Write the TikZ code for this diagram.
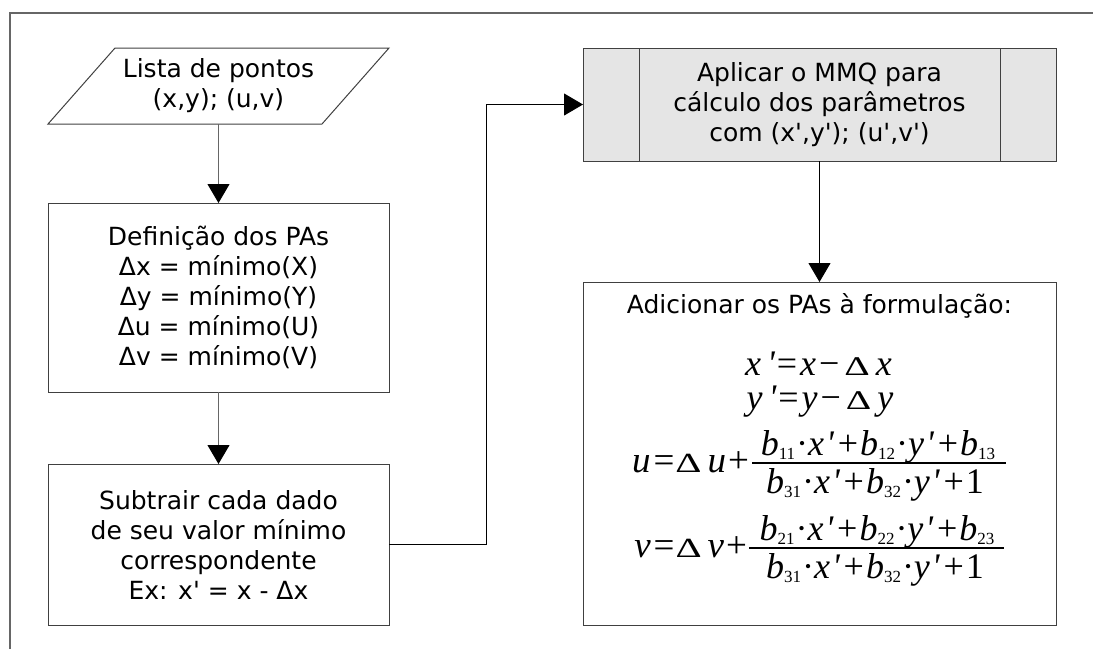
\documentclass[tikz,border=0pt]{standalone}
\usepackage{fontspec}
\usepackage{graphicx}
\setmainfont{DejaVu Sans}
\newfontfamily\tms{Liberation Serif}
\usetikzlibrary{arrows.meta,calc}
\newcommand{\q}{\textquotesingle}
\newcommand{\Dl}{\scalebox{1.1}[0.75]{Δ}}
\newcommand{\sbs}[1]{\raisebox{-4pt}{\upshape\fontsize{17}{17}\selectfont #1}}
\newcommand{\g}{\hspace{2pt}}
\newcommand{\pq}{\itshape\textquotesingle\upshape}
\begin{document}
\begin{tikzpicture}[x=1pt,y=-1pt,
  boxline/.style={draw=black!75, line width=1pt},
  procbox/.style={boxline, inner sep=0pt, outer sep=0pt, align=center,
    font=\fontsize{25}{30}\selectfont},
  arrL/.style={draw=black!60, line width=1pt, -{Triangle[width=22pt,length=19pt,color=black]}},
  arrR/.style={draw=black, line width=1pt, -{Triangle[width=22pt,length=19pt,color=black]}},
  frameline/.style={draw=black!60, line width=1.5pt},
  fbar/.style={draw=black, line width=2pt},
  serA/.style={inner sep=0pt, outer sep=0pt, font=\tms\fontsize{36}{40}\selectfont},
  serB/.style={inner sep=0pt, outer sep=0pt, font=\tms\fontsize{37}{42}\selectfont}]
\useasboundingbox (0,0) rectangle (1093,649);
\draw[frameline] (10,649) -- (10,13) -- (1093,13);

% input parallelogram
\node[inner sep=0pt, outer sep=0pt, minimum width=341pt, minimum height=76pt,
  align=center, font=\fontsize{25}{30}\selectfont] (in) at (218.5,86)
  {Lista de pontos\\(x,y); (u,v)};
\draw[boxline] ($(in.north west)+(67,0)$) -- (in.north east)
  -- ($(in.south east)+(-67,0)$) -- (in.south west) -- cycle;

\node[procbox, minimum width=341pt, minimum height=189pt] (def) at (218.5,297.5)
  {Definição dos PAs\\Δx = mínimo(X)\\Δy = mínimo(Y)\\Δu = mínimo(U)\\Δv = mínimo(V)};

\node[procbox, minimum width=341pt, minimum height=161pt] (sub) at (218.5,544.5)
  {Subtrair cada dado\\de seu valor mínimo\\correspondente\\Ex: x\q{} = x - Δx};

\node[procbox, fill=black!10, minimum width=473pt, minimum height=113pt] (mmq) at (819.5,104.5)
  {Aplicar o MMQ para\\cálculo dos parâmetros\\com (x\q,y\q); (u\q,v\q)};
\draw[boxline] ($(mmq.north west)+(56,0)$) -- ($(mmq.south west)+(56,0)$);
\draw[boxline] ($(mmq.north east)+(-56,0)$) -- ($(mmq.south east)+(-56,0)$);

\node[procbox, minimum width=473pt, minimum height=343pt] (form) at (819.5,453.5) {};
\node[inner sep=0pt, font=\fontsize{25}{30}\selectfont] (ftitle) at (819.5,306)
  {Adicionar os PAs à formulação:};

% formula lines
\node[serA, anchor=base] (fx) at (818.5,375)
  {\itshape x\hspace{6pt}\pq\hspace{2pt}=\hspace{3pt}\itshape x\upshape\hspace{3pt}−\hspace{5pt}\Dl\hspace{6pt}\itshape x};
\node[serA, anchor=base] (fy) at (820,409)
  {\itshape y\hspace{6pt}\pq\hspace{2pt}=\hspace{3pt}\itshape y\upshape\hspace{3pt}−\hspace{5pt}\Dl\hspace{6pt}\itshape y};

\node[serB, anchor=base east] (ul) at (749,472)
  {\itshape u\upshape\hspace{3pt}=\hspace{1pt}\Dl\hspace{6pt}\itshape u\upshape\hspace{2pt}+};
\node[serA, anchor=base] (un) at (878,455)
  {\itshape b\sbs{11}\g·\g x\g\pq\g\g+\g\itshape b\sbs{12}\g·\g\itshape y\g\pq\g\g+\g\itshape b\sbs{13}};
\node[serA, anchor=base] (ud) at (875,493)
  {\itshape b\sbs{31}\g·\g x\g\pq\g\g+\g\itshape b\sbs{32}\g·\g\itshape y\g\pq\g\g+\g 1};
\coordinate (ubl) at (752,463);
\coordinate (ubr) at (1006,463);
\draw[fbar] (ubl) -- (ubr);

\node[serB, anchor=base east] (vl) at (747,557)
  {\itshape v\upshape\hspace{3pt}=\hspace{1pt}\Dl\hspace{6pt}\itshape v\upshape\hspace{2pt}+};
\node[serA, anchor=base] (vn) at (877,540)
  {\itshape b\sbs{21}\g·\g x\g\pq\g\g+\g\itshape b\sbs{22}\g·\g\itshape y\g\pq\g\g+\g\itshape b\sbs{23}};
\node[serA, anchor=base] (vd) at (875,578)
  {\itshape b\sbs{31}\g·\g x\g\pq\g\g+\g\itshape b\sbs{32}\g·\g\itshape y\g\pq\g\g+\g 1};
\coordinate (vbl) at (749,548);
\coordinate (vbr) at (1004,548);
\draw[fbar] (vbl) -- (vbr);

\coordinate (bend) at (486,544.5);
\draw[arrL] (in.south) -- (def.north);
\draw[arrL] (def.south) -- (sub.north);
\draw[arrR] (sub.east) -- (bend) |- (mmq.west);
\draw[arrR] (mmq.south) -- (form.north);
\end{tikzpicture}
\end{document}
